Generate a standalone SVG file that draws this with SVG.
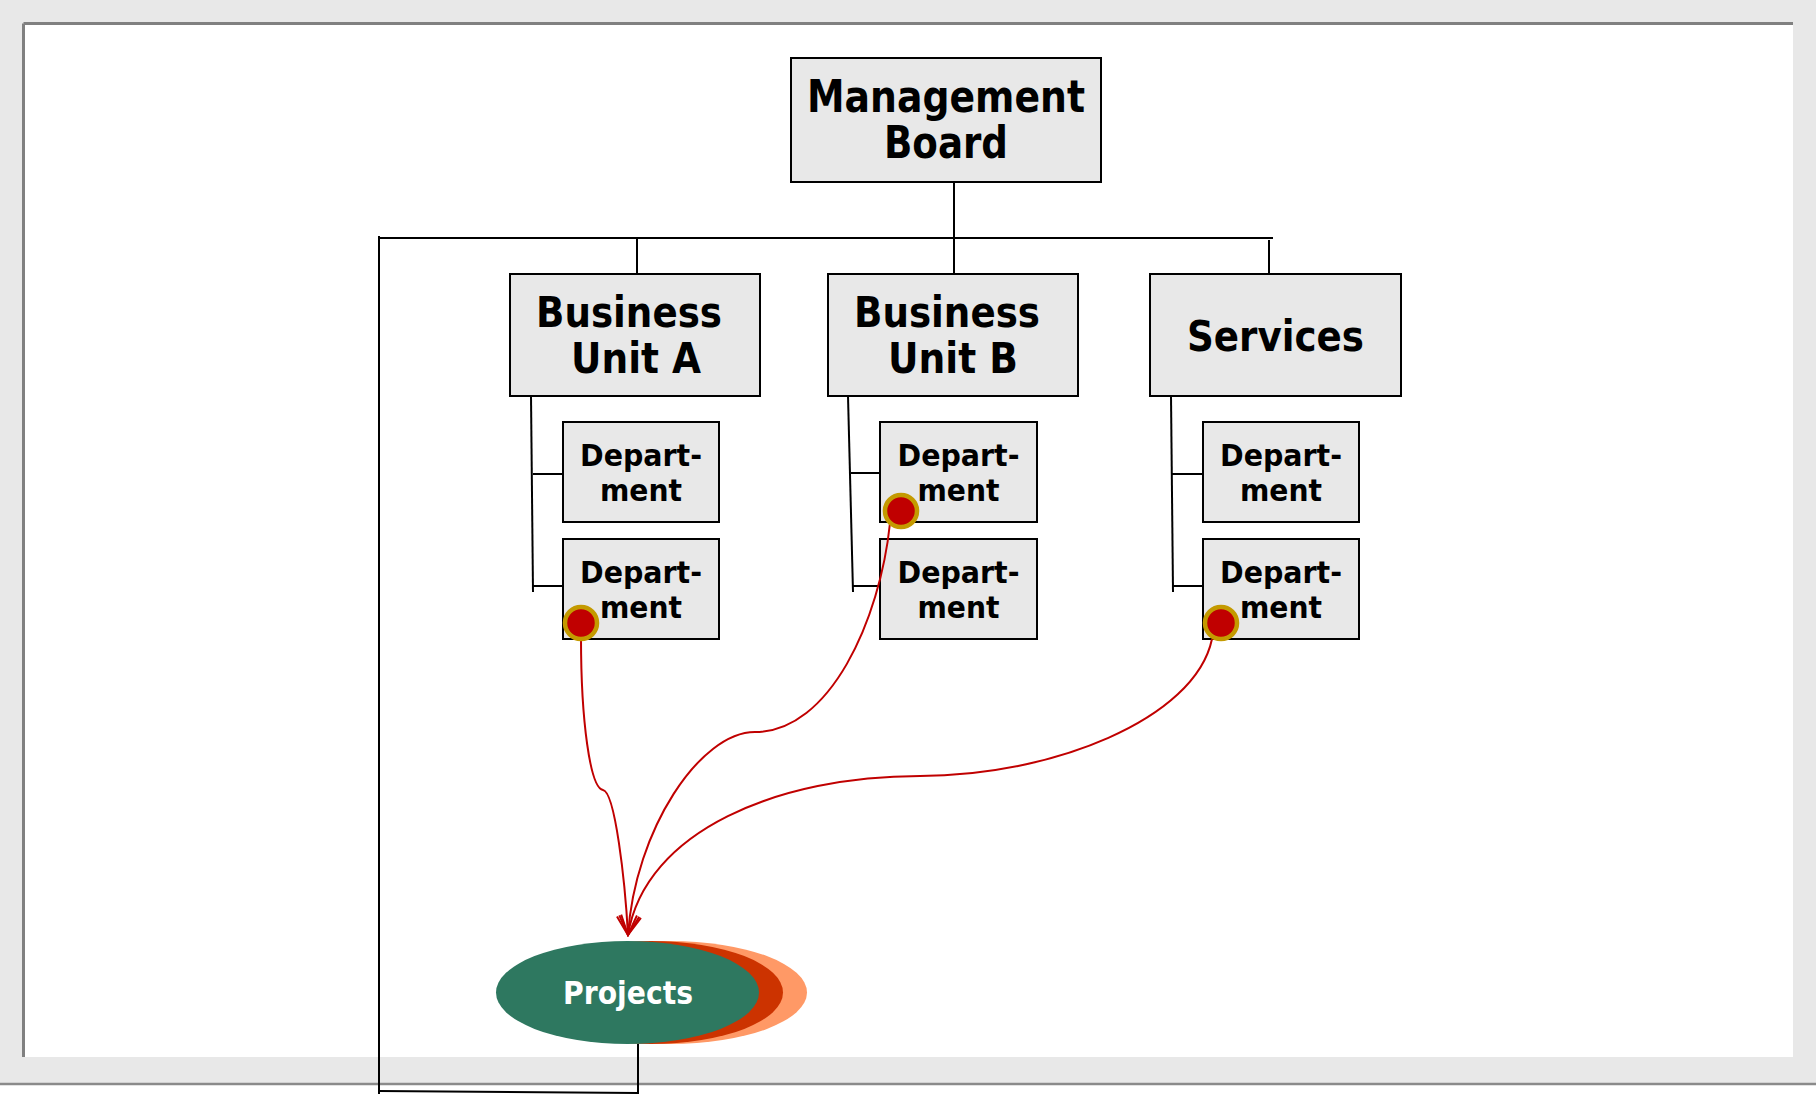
<svg xmlns="http://www.w3.org/2000/svg" width="1816" height="1094" viewBox="0 0 1816 1094">
  <defs>
    <style>
      .box { fill: #e8e8e8; stroke: #000; stroke-width: 2; }
      .ln { stroke: #000; stroke-width: 2; fill: none; }
      .t { font-family: "DejaVu Sans", Verdana, sans-serif; font-weight: bold; fill: #000; text-anchor: middle; }
      .big { font-size: 44px; }
      .bu { font-size: 42px; }
      .dep { font-size: 30px; }
      .prj { font-size: 32px; }
      .flow { stroke: #c00000; stroke-width: 2; fill: none; marker-end: url(#arr); }
      .dot { fill: #c00000; stroke: #c49a00; stroke-width: 4.5; }
    </style>
    <marker id="arr" viewBox="0 0 22 22" refX="20" refY="11" markerWidth="22" markerHeight="22" markerUnits="userSpaceOnUse" orient="auto">
      <path d="M1,1 L20,11 L1,21" fill="none" stroke="#c00000" stroke-width="2"/>
    </marker>
  </defs>

  <!-- page background -->
  <rect x="0" y="0" width="1816" height="1094" fill="#e8e8e8"/>
  <rect x="23" y="23" width="1770" height="1034" fill="#ffffff"/>
  <line x1="23.5" y1="23.5" x2="1793" y2="23.5" stroke="#808080" stroke-width="3"/>
  <line x1="23.5" y1="23.5" x2="23.5" y2="1057" stroke="#808080" stroke-width="3"/>
  <rect x="0" y="1085" width="1816" height="9" fill="#ffffff"/>
  <line x1="0" y1="1084" x2="1816" y2="1084" stroke="#8a8a8a" stroke-width="2.5"/>

  <g id="connectors">
    <line class="ln" x1="954" y1="182" x2="954" y2="238"/>
    <line class="ln" x1="380" y1="238" x2="1273" y2="238" stroke-width="2.5"/>
    <line class="ln" x1="379" y1="236" x2="379" y2="1094"/>
    <line class="ln" x1="637" y1="238" x2="637" y2="274"/>
    <line class="ln" x1="954" y1="238" x2="954" y2="274"/>
    <line class="ln" x1="1269" y1="240" x2="1269" y2="274"/>
    <line class="ln" x1="531" y1="396" x2="533" y2="592"/>
    <line class="ln" x1="533" y1="474" x2="563" y2="474"/>
    <line class="ln" x1="533" y1="586" x2="563" y2="586"/>
    <line class="ln" x1="848" y1="396" x2="853" y2="592"/>
    <line class="ln" x1="851" y1="473" x2="880" y2="473"/>
    <line class="ln" x1="853" y1="586" x2="880" y2="586"/>
    <line class="ln" x1="1171" y1="396" x2="1173" y2="592"/>
    <line class="ln" x1="1172" y1="474" x2="1203" y2="474"/>
    <line class="ln" x1="1173" y1="586" x2="1203" y2="586"/>
    <line class="ln" x1="638" y1="1044" x2="638" y2="1094"/>
    <line class="ln" x1="379" y1="1091" x2="638" y2="1093"/>
  </g>

  <g id="management-board">
    <rect class="box" x="791" y="58" width="310" height="124"/>
    <text class="t big" x="946" y="112" textLength="278" lengthAdjust="spacingAndGlyphs">Management</text>
    <text class="t big" x="946" y="158" textLength="124" lengthAdjust="spacingAndGlyphs">Board</text>
  </g>

  <g id="business-unit-a">
    <rect class="box" x="510" y="274" width="250" height="122"/>
    <text class="t bu" x="629" y="327" textLength="186" lengthAdjust="spacingAndGlyphs">Business</text>
    <text class="t bu" x="636" y="373" textLength="130" lengthAdjust="spacingAndGlyphs">Unit A</text>
  </g>

  <g id="business-unit-b">
    <rect class="box" x="828" y="274" width="250" height="122"/>
    <text class="t bu" x="947" y="327" textLength="186" lengthAdjust="spacingAndGlyphs">Business</text>
    <text class="t bu" x="953" y="373" textLength="130" lengthAdjust="spacingAndGlyphs">Unit B</text>
  </g>

  <g id="services">
    <rect class="box" x="1150" y="274" width="251" height="122"/>
    <text class="t bu" x="1275.5" y="351" textLength="177" lengthAdjust="spacingAndGlyphs">Services</text>
  </g>

  <g id="dept-a1">
    <rect class="box" x="563" y="422" width="156" height="100"/>
    <text class="t dep" x="641" y="466" textLength="122" lengthAdjust="spacingAndGlyphs">Depart-</text>
    <text class="t dep" x="641" y="500.5" textLength="82" lengthAdjust="spacingAndGlyphs">ment</text>
  </g>
  <g id="dept-a2">
    <rect class="box" x="563" y="539" width="156" height="100"/>
    <text class="t dep" x="641" y="583" textLength="122" lengthAdjust="spacingAndGlyphs">Depart-</text>
    <text class="t dep" x="641" y="617.5" textLength="82" lengthAdjust="spacingAndGlyphs">ment</text>
  </g>
  <g id="dept-b1">
    <rect class="box" x="880" y="422" width="157" height="100"/>
    <text class="t dep" x="958.5" y="466" textLength="122" lengthAdjust="spacingAndGlyphs">Depart-</text>
    <text class="t dep" x="958.5" y="500.5" textLength="82" lengthAdjust="spacingAndGlyphs">ment</text>
  </g>
  <g id="dept-b2">
    <rect class="box" x="880" y="539" width="157" height="100"/>
    <text class="t dep" x="958.5" y="583" textLength="122" lengthAdjust="spacingAndGlyphs">Depart-</text>
    <text class="t dep" x="958.5" y="617.5" textLength="82" lengthAdjust="spacingAndGlyphs">ment</text>
  </g>
  <g id="dept-s1">
    <rect class="box" x="1203" y="422" width="156" height="100"/>
    <text class="t dep" x="1281" y="466" textLength="122" lengthAdjust="spacingAndGlyphs">Depart-</text>
    <text class="t dep" x="1281" y="500.5" textLength="82" lengthAdjust="spacingAndGlyphs">ment</text>
  </g>
  <g id="dept-s2">
    <rect class="box" x="1203" y="539" width="156" height="100"/>
    <text class="t dep" x="1281" y="583" textLength="122" lengthAdjust="spacingAndGlyphs">Depart-</text>
    <text class="t dep" x="1281" y="617.5" textLength="82" lengthAdjust="spacingAndGlyphs">ment</text>
  </g>

  <g id="projects">
    <ellipse cx="670" cy="992.5" rx="137" ry="51.5" fill="#ff9966"/>
    <ellipse cx="651" cy="992.5" rx="132" ry="51.5" fill="#cc3300"/>
    <ellipse cx="627.5" cy="992.5" rx="131.5" ry="51.5" fill="#2e7860"/>
    <text class="t prj" x="628" y="1004" style="fill:#ffffff" textLength="130" lengthAdjust="spacingAndGlyphs">Projects</text>
  </g>

  <g id="flows">
    <path class="flow" d="M581,638 C581,720 590,788 603,790 C615,792 625,880 628,935"/>
    <path class="flow" d="M890,523 C880,620 830,732 755,732 C700,732 635,830 628,935"/>
    <path class="flow" d="M1212,639 C1195,720 1050,776 920,776 C780,776 645,830 628,935"/>
  </g>

  <g id="markers">
    <circle class="dot" cx="581" cy="623" r="16"/>
    <circle class="dot" cx="901" cy="511" r="16"/>
    <circle class="dot" cx="1221" cy="623" r="16"/>
  </g>
</svg>
